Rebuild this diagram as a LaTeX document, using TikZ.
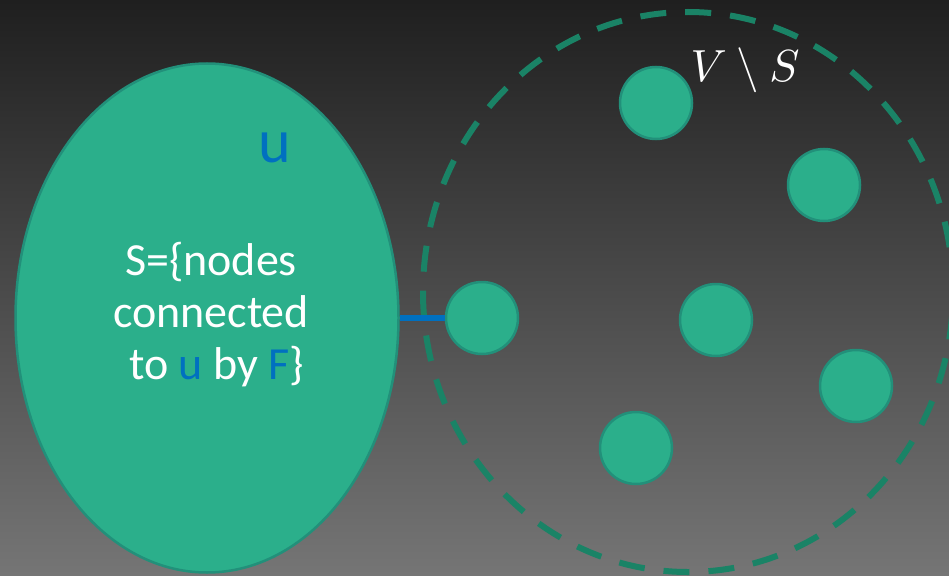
\documentclass[tikz,border=0pt]{standalone}
\usepackage{fontspec}
\setmainfont{Carlito}
\usetikzlibrary{shapes.geometric}

\definecolor{bgtop}{HTML}{1F1F1F}
\definecolor{bgmid}{HTML}{292929}
\definecolor{bgbot}{HTML}{757575}
\definecolor{nodefill}{HTML}{2BAF8B}
\definecolor{nodeedge}{HTML}{22907A}
\definecolor{ringcol}{HTML}{1A8366}
\definecolor{edgeblue}{HTML}{0070C0}

\begin{document}
\begin{tikzpicture}[x=1pt,y=-1pt,
  vertex/.style={circle, fill=nodefill, draw=nodeedge, line width=2.5pt,
                 minimum size=72pt, inner sep=0pt},
  bigset/.style={ellipse, fill=nodefill, draw=nodeedge, line width=2.5pt,
                 minimum width=383pt, minimum height=509pt, inner sep=0pt},
  ring/.style={ellipse, draw=ringcol, line width=6pt,
               dash pattern=on 26pt off 19pt,
               minimum width=530pt, minimum height=560pt, inner sep=0pt},
  cut/.style={draw=edgeblue, line width=6pt}]

% background
\shade[top color=bgtop, middle color=bgmid, bottom color=bgbot]
  (0,0) rectangle (949,575);
\useasboundingbox (0,0) rectangle (949,575);

% the set S
\node[bigset] (S) at (207,318) {};
\node[text=edgeblue, anchor=base, font=\fontsize{62}{62}\selectfont] (u) at (275,162) {u};
\node[text=white, align=center, font=\fontsize{46}{52}\selectfont] (Slabel) at (211,315)
  {S=\{nodes\\connected\\\hspace*{0.25em}to \textcolor{edgeblue}{u} by \textcolor{edgeblue}{F}\}};

% the rest V \ S
\node[ring] (R) at (688,292) {};
\node[text=white, scale=4.5, anchor=base] (VS) at (745,82) {$V\setminus S$};

\node[vertex] (v1) at (656,103) {};
\node[vertex] (v2) at (824,185) {};
\node[vertex] (v3) at (482,318) {};
\node[vertex] (v4) at (716,320) {};
\node[vertex] (v5) at (856,386) {};
\node[vertex] (v6) at (636,448) {};

% the crossing edge
\draw[cut] (S.east) -- (v3.west);
\end{tikzpicture}
\end{document}
